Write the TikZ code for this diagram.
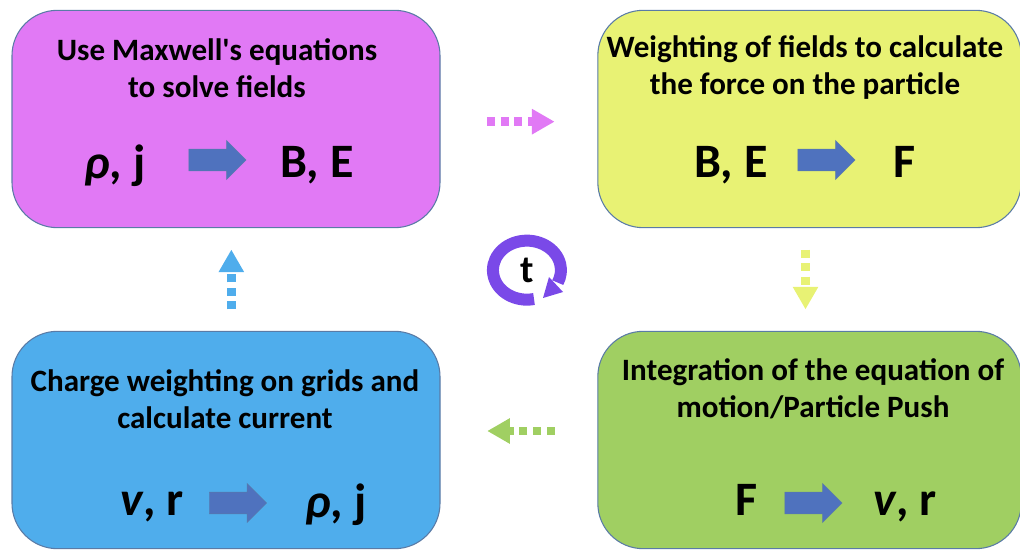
\documentclass[tikz,border=0pt]{standalone}
\usepackage{fontspec}
\usepackage{xcolor}
\usetikzlibrary{arrows.meta, shapes.arrows}
\newfontfamily\boxfont{Carlito}

\definecolor{boxpink}{HTML}{E179F5}
\definecolor{boxyellow}{HTML}{E8F274}
\definecolor{boxgreen}{HTML}{A0CF62}
\definecolor{boxblue}{HTML}{4FADEC}
\definecolor{boxedge}{HTML}{5A7BA6}
\definecolor{arrowblue}{HTML}{4F72BE}
\definecolor{looppurple}{HTML}{7A49E8}

\tikzset{
    stepbox/.style={draw=boxedge, line width=0.8pt, rounded corners=34pt, minimum width=321pt, minimum height=163pt},
    title/.style={font=\boxfont\bfseries\fontsize{23.3}{27.75}\selectfont, align=center, inner sep=0pt},
    symb/.style={font=\boxfont\bfseries\fontsize{36}{38}\selectfont, inner sep=0pt, anchor=base},
    blockarrow/.style={single arrow, fill=arrowblue, draw=boxedge, line width=0.3pt, text height=16pt, text depth=0pt, text width=0pt,
        minimum height=43pt, single arrow head extend=6.5pt, single arrow head indent=0pt, inner sep=0pt},
    dotarrow/.style={line width=6.5pt, dash pattern=on 6pt off 4.2pt, -{Triangle[length=17pt,width=18pt]}}
}

\begin{document}
\begin{tikzpicture}[x=0.75pt, y=0.75pt]
    \useasboundingbox (0,0) rectangle (1020,550);

    % The four steps of the cycle
    \node[stepbox, fill=boxpink] (maxwell) at (226,431) {};
    \node[stepbox, fill=boxyellow, minimum width=317.5pt] (weighting) at (809.5,431) {};
    \node[stepbox, fill=boxgreen, minimum width=317.5pt] (integration) at (809.5,110) {};
    \node[stepbox, fill=boxblue] (charge) at (226,110) {};

    % Text at the top of each box
    \node[title] (maxwelltext) at (217,482) {Use Maxwell's equations\\to solve fields};
    \node[title] (weightingtext) at (805,482) {Weighting of fields to calculate\\the force on the particle};
    \node[title] (integrationtext) at (813,161) {Integration of the equation of\\motion/Particle Push};
    \node[title] (chargetext) at (225,151) {Charge weighting on grids and\\calculate current};

    % Symbols and small block arrows
    \node[symb] (rhoj) at (115,371) {{\itshape ρ}, j};
    \node[blockarrow] (maxwellarrow) at (212,390) {};
    \node[symb] (be) at (317,372) {B, E};

    \node[symb] (beb) at (731,372) {B, E};
    \node[blockarrow] (weightingarrow) at (821,390) {};
    \node[symb] (f) at (905,372) {F};

    \node[symb] (fb) at (747,35) {F};
    \node[blockarrow] (integrationarrow) at (808,47) {};
    \node[symb] (vr) at (905,35) {{\itshape v}, r};

    \node[symb] (vrb) at (152,35) {{\itshape v}, r};
    \node[blockarrow] (chargearrow) at (232.5,47) {};
    \node[symb] (rhojb) at (336,33) {{\itshape ρ}, j};

    % Dotted arrows between the boxes
    \draw[dotarrow, boxpink, shorten <=35pt, shorten >=32pt] ([yshift=-2pt]maxwell.east) -- ([yshift=-2pt]weighting.west);
    \draw[dotarrow, boxyellow, shorten <=16pt, shorten >=16pt] ([xshift=-3pt]weighting.south) -- ([xshift=-3pt]integration.north);
    \draw[dotarrow, boxgreen, shorten <=32pt, shorten >=35pt] ([yshift=6.75pt]integration.west) -- ([yshift=6.75pt]charge.east);
    \draw[dotarrow, boxblue, shorten <=16pt, shorten >=16pt] ([xshift=4pt]charge.north) -- ([xshift=4pt]maxwell.south);

    % Time loop in the middle
    \node[font=\boxfont\bfseries\fontsize{29}{30}\selectfont, inner sep=0pt] (t) at (527,280) {t};
    \draw[looppurple, line width=9pt] (534,251) arc[start angle=-78, end angle=-385, x radius=34, y radius=29.5];
    \fill[looppurple] (549,273) -- (563,258) -- (543,252) -- cycle;
\end{tikzpicture}
\end{document}
